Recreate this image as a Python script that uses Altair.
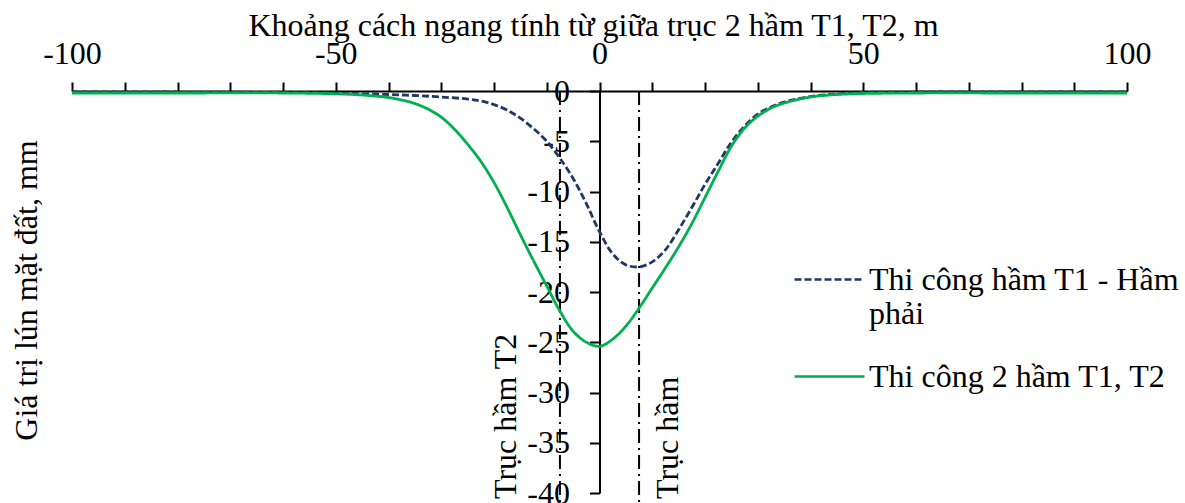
import altair as alt
import pandas as pd

# Horizontal distance from the midline between tunnels T1 and T2 (m)
x_t1 = [-100, -80, -60, -50, -40, -35, -30, -25, -22.5, -20, -17.5, -15, -12.5, -10,
        -7.5, -5, -2.5, 0, 2.5, 5, 7.5, 10, 12.5, 15, 17.5, 20, 22.5, 25, 27.5, 30,
        32.5, 35, 40, 45, 50, 60, 80, 100]
# Settlement when only T1 (right tunnel) is built (mm)
s_t1 = [-0.1, -0.1, -0.15, -0.2, -0.35, -0.45, -0.6, -0.8, -1.0, -1.35, -1.9, -2.7, -3.75, -5.0,
        -6.7, -8.7, -11.2, -14.0, -16.2, -17.3, -17.5, -17.0, -15.8, -13.8, -11.6, -9.3, -7.2,
        -5.1, -3.5, -2.3, -1.6, -1.1, -0.55, -0.3, -0.15, -0.1, -0.1, -0.1]

x_both = [-100, -80, -60, -50, -45, -40, -37.5, -35, -32.5, -30, -27.5, -25, -22.5, -20, -17.5,
          -15, -12.5, -10, -7.5, -5, -2.5, 0, 2.5, 5, 7.5, 10, 12.5, 15, 17.5, 20, 22.5,
          25, 27.5, 30, 32.5, 35, 40, 45, 50, 60, 80, 100]
# Settlement when both tunnels T1 and T2 are built (mm)
s_both = [-0.2, -0.2, -0.2, -0.28, -0.4, -0.65, -0.9, -1.25, -1.8, -2.6, -3.8, -5.3, -7.0, -9.1,
          -11.6, -14.3, -16.9, -19.4, -21.9, -23.9, -25.0, -25.4, -24.7, -23.4, -21.6, -19.6,
          -17.6, -15.5, -13.2, -10.6, -8.0, -5.5, -3.7, -2.5, -1.7, -1.2, -0.6, -0.35, -0.25,
          -0.2, -0.2, -0.2]

series_names = ["Thi công hầm T1 - Hầm phải", "Thi công 2 hầm T1, T2"]
series_colors = ["#1F3864", "#00B050"]
series_dash = [[7, 3], [1, 0]]

# Tunnel axes and their labels
axis_x = [-7.5, 7.5]
axis_label = ["Trục hầm T2", "Trục hầm"]
axis_label_x = [-15.9, 14.8]
axis_label_y = [-40.6, -40.6]

x_ticks = list(range(-100, 101, 10))
y_ticks = list(range(-40, 1, 5))

curves = pd.concat([
    pd.DataFrame({"x": x_t1, "s": s_t1, "series": series_names[0]}),
    pd.DataFrame({"x": x_both, "s": s_both, "series": series_names[1]}),
])
tunnels = pd.DataFrame({"x": axis_x, "top": 0, "bottom": -41.2})
labels = pd.DataFrame({"x": axis_label_x, "y": axis_label_y, "text": axis_label})

x_scale = alt.Scale(domain=[-100, 100], nice=False, zero=False)
y_scale = alt.Scale(domain=[-40, 0], nice=False, zero=False)

# The first entry wraps onto two lines; the symbol stays level with the first line.
legend = alt.Legend(
    title=None, orient="none", legendX=721, legendY=152,
    symbolType="stroke", symbolSize=4900, symbolStrokeWidth=2.5,
    labelFontSize=32, labelColor="black", labelLimit=0, labelOffset=3,
    labelBaseline="middle", rowPadding=10,
    labelExpr="datum.label == 'Thi công hầm T1 - Hầm phải' ? ['Thi công hầm T1 - Hầm', 'phải'] : datum.label",
)

lines = alt.Chart(curves).mark_line(strokeWidth=2.8, interpolate="catmull-rom").encode(
    x=alt.X("x:Q", scale=x_scale, axis=alt.Axis(
        orient="top", values=x_ticks, title="Khoảng cách ngang tính từ giữa trục 2 hầm T1, T2, m",
        labelExpr="datum.value % 50 == 0 ? '' + datum.value : ''",
        labelFlush=False, labelOverlap=False, labelBaseline="alphabetic", labelPadding=19,
        tickSize=9, titleX=521, titleY=-56, titleBaseline="alphabetic", titleAlign="center",
        grid=False)),
    y=alt.Y("s:Q", scale=y_scale, axis=alt.Axis(
        orient="left", values=y_ticks, offset=-527.5, title="Giá trị lún mặt đất, mm",
        labelExpr="'' + datum.value", labelFlush=False, labelOverlap=False,
        labelPadding=20, tickSize=10, titleAngle=270, titleX=-563, titleY=199,
        titleBaseline="alphabetic", titleAlign="center", grid=False)),
    color=alt.Color("series:N", scale=alt.Scale(domain=series_names, range=series_colors), legend=legend),
    strokeDash=alt.StrokeDash("series:N", scale=alt.Scale(domain=series_names, range=series_dash), legend=legend),
)

rules = alt.Chart(tunnels).mark_rule(color="black", strokeWidth=2, strokeDash=[14, 5, 2, 5]).encode(
    x="x:Q", y="top:Q", y2="bottom:Q"
)

texts = alt.Chart(labels).mark_text(angle=270, align="left", baseline="alphabetic",
                                    fontSize=32, color="black").encode(
    x="x:Q", y="y:Q", text="text:N"
)

chart = alt.layer(rules, lines, texts).properties(
    width=1055, height=402, autosize="none",
    padding={"left": 72, "top": 91, "right": 58, "bottom": 10},
    background="white",
).configure(font="Liberation Serif").configure_view(stroke=None).configure_axis(
    labelFont="Liberation Serif", titleFont="Liberation Serif", labelFontSize=32, titleFontSize=32,
    titleFontWeight="normal", labelColor="black", titleColor="black",
    domainColor="black", tickColor="black", domainWidth=2, tickWidth=2,
).configure_legend(labelFont="Liberation Serif")

chart.save("out.html", embed_options={"renderer": "svg", "actions": False})
